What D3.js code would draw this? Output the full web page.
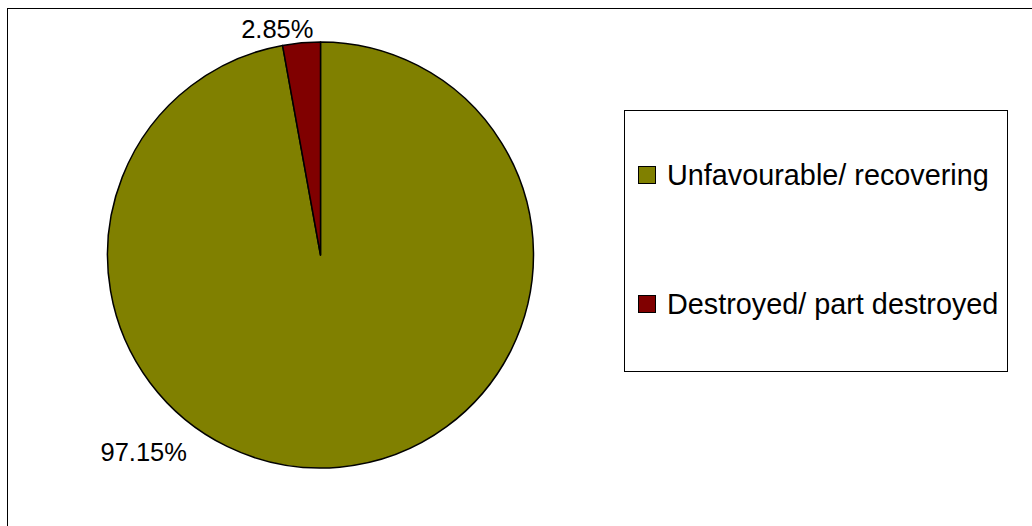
<!DOCTYPE html>
<html>
<head>
<meta charset="utf-8">
<script src="https://cdn.jsdelivr.net/npm/d3@7"></script>
<style>
  html, body { margin: 0; padding: 0; background: #fff; }
  svg { display: block; }
  text { font-family: "Liberation Sans", Arial, sans-serif; fill: #000; }
</style>
</head>
<body>
<svg id="chart" width="1032" height="526"></svg>
<script>
const categories = ["Unfavourable/ recovering", "Destroyed/ part destroyed"];
const values = [97.15, 2.85];
const labels = ["97.15%", "2.85%"];
const colors = ["#808000", "#800000"];

const svg = d3.select("#chart");

// outer chart border (extends beyond right/bottom edges)
svg.append("rect")
  .attr("x", 7.5).attr("y", 8.5)
  .attr("width", 1040).attr("height", 540)
  .attr("fill", "#fff").attr("stroke", "#000").attr("stroke-width", 1);

const cx = 320.5, cy = 255, r = 213;

const pie = d3.pie().sort(null).value(d => d)(values);
const arc = d3.arc().innerRadius(0).outerRadius(r);

const g = svg.append("g").attr("transform", `translate(${cx},${cy})`);
g.selectAll("path.slice")
  .data(pie)
  .join("path")
  .attr("class", "slice")
  .attr("d", arc)
  .attr("fill", (d, i) => colors[i])
  .attr("stroke", "#000")
  .attr("stroke-width", 1.5)
  .attr("stroke-linejoin", "round");

// data labels: "best fit" placement outside the pie (angle shift in radians, radius)
const labelShift = [0.82, -0.099];
const labelRadius = [265, 230.5];
g.selectAll("text.lbl")
  .data(pie)
  .join("text")
  .attr("class", "lbl")
  .attr("text-anchor", "middle")
  .attr("font-size", 25.5)
  .attr("x", (d, i) => Math.sin((d.startAngle + d.endAngle) / 2 + labelShift[i]) * labelRadius[i])
  .attr("y", (d, i) => -Math.cos((d.startAngle + d.endAngle) / 2 + labelShift[i]) * labelRadius[i] + 9)
  .text((d, i) => labels[i]);

// Legend
const lg = svg.append("g");
lg.append("rect")
  .attr("x", 624.5).attr("y", 110.5)
  .attr("width", 383).attr("height", 261)
  .attr("fill", "#fff").attr("stroke", "#000").attr("stroke-width", 1);

const legendY = d3.scalePoint().domain(categories).range([185, 314]);
const items = lg.selectAll("g.item").data(categories).join("g").attr("class", "item");
items.append("rect")
  .attr("x", 638.5)
  .attr("y", d => legendY(d) - 18.5)
  .attr("width", 17).attr("height", 17)
  .attr("fill", (d, i) => colors[i])
  .attr("stroke", "#000").attr("stroke-width", 1);
items.append("text")
  .attr("x", 667)
  .attr("y", d => legendY(d))
  .attr("font-size", 28.8)
  .text(d => d);
</script>
</body>
</html>
